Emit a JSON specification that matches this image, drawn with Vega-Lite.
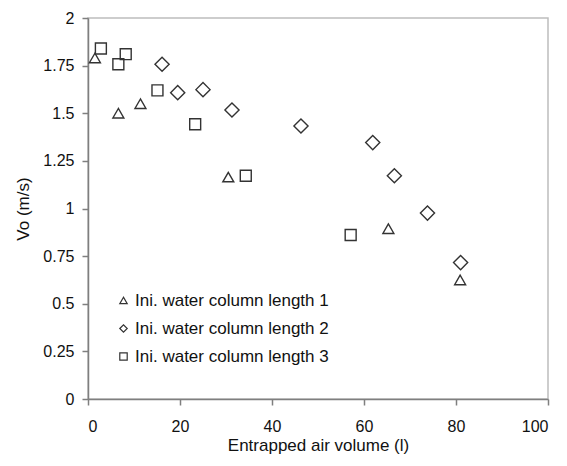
{
  "$schema": "https://vega.github.io/schema/vega-lite/v6.json",
  "autosize": {"type": "none"},
  "width": 460,
  "height": 381,
  "padding": {"left": 88, "top": 18, "right": 19, "bottom": 67},
  "background": "white",
  "config": {
    "font": "Liberation Sans",
    "view": {"stroke": "#bdbdbd", "strokeWidth": 1.5},
    "axis": {
      "domainColor": "#7f7f7f",
      "domainWidth": 1.5,
      "tickColor": "#7f7f7f",
      "tickWidth": 1.5,
      "tickSize": 6,
      "grid": false,
      "labelFont": "Liberation Sans",
      "labelFontSize": 16,
      "labelColor": "#111111",
      "titleFont": "Liberation Sans",
      "titleFontSize": 17,
      "titleFontWeight": "normal",
      "titleColor": "#111111"
    }
  },
  "data": {
    "values": [
      {"series": "Ini. water column length 1", "v": 1.5, "vo": 1.79},
      {"series": "Ini. water column length 1", "v": 6.6, "vo": 1.5},
      {"series": "Ini. water column length 1", "v": 11.4, "vo": 1.55},
      {"series": "Ini. water column length 1", "v": 30.5, "vo": 1.165},
      {"series": "Ini. water column length 1", "v": 65.3, "vo": 0.894},
      {"series": "Ini. water column length 1", "v": 80.9, "vo": 0.625},
      {"series": "Ini. water column length 2", "v": 16.1, "vo": 1.757},
      {"series": "Ini. water column length 2", "v": 19.5, "vo": 1.608},
      {"series": "Ini. water column length 2", "v": 25.0, "vo": 1.624},
      {"series": "Ini. water column length 2", "v": 31.3, "vo": 1.517},
      {"series": "Ini. water column length 2", "v": 46.3, "vo": 1.433},
      {"series": "Ini. water column length 2", "v": 61.9, "vo": 1.346},
      {"series": "Ini. water column length 2", "v": 66.6, "vo": 1.172},
      {"series": "Ini. water column length 2", "v": 73.8, "vo": 0.976},
      {"series": "Ini. water column length 2", "v": 81.0, "vo": 0.716},
      {"series": "Ini. water column length 3", "v": 2.8, "vo": 1.84},
      {"series": "Ini. water column length 3", "v": 6.6, "vo": 1.757},
      {"series": "Ini. water column length 3", "v": 8.2, "vo": 1.81},
      {"series": "Ini. water column length 3", "v": 15.1, "vo": 1.62},
      {"series": "Ini. water column length 3", "v": 23.3, "vo": 1.442},
      {"series": "Ini. water column length 3", "v": 34.3, "vo": 1.172},
      {"series": "Ini. water column length 3", "v": 57.1, "vo": 0.861}
    ]
  },
  "encoding": {
    "x": {
      "field": "v", "type": "quantitative",
      "scale": {"domain": [0, 100], "nice": false, "zero": true},
      "axis": {"values": [0, 20, 40, 60, 80, 100], "title": "Entrapped air volume (l)", "labelPadding": 13, "titlePadding": 3}
    },
    "y": {
      "field": "vo", "type": "quantitative",
      "scale": {"domain": [0, 2], "nice": false},
      "axis": {"values": [0, 0.25, 0.5, 0.75, 1, 1.25, 1.5, 1.75, 2], "title": "Vo (m/s)", "labelPadding": 8, "titlePadding": 10, "labelExpr": "datum.value == 0 ? '0' : format(datum.value, '.3~f')"}
    },
    "shape": {
      "field": "series", "type": "nominal",
      "scale": {"domain": ["Ini. water column length 1", "Ini. water column length 2", "Ini. water column length 3"], "range": ["triangle-up", "diamond", "square"]},
      "legend": {
        "title": null,
        "orient": "none",
        "legendX": 27,
        "legendY": 274,
        "padding": 0,
        "symbolSize": 55,
        "symbolStrokeColor": "#333333",
        "symbolStrokeWidth": 1.2,
        "symbolFillColor": "transparent",
        "labelFontSize": 17,
        "labelColor": "#111111",
        "labelOffset": 3,
        "labelLimit": 400,
        "rowPadding": 10,
        "labelFont": "Liberation Sans"
      }
    }
  },
  "layer": [
    {
      "transform": [{"filter": "datum.series != 'Ini. water column length 2'"}],
      "mark": {"type": "point", "filled": false, "stroke": "#333333", "strokeWidth": 1.4, "opacity": 1, "size": 120}
    },
    {
      "transform": [{"filter": "datum.series == 'Ini. water column length 2'"}],
      "mark": {"type": "point", "filled": false, "stroke": "#333333", "strokeWidth": 1.4, "opacity": 1, "size": 200}
    }
  ]
}
